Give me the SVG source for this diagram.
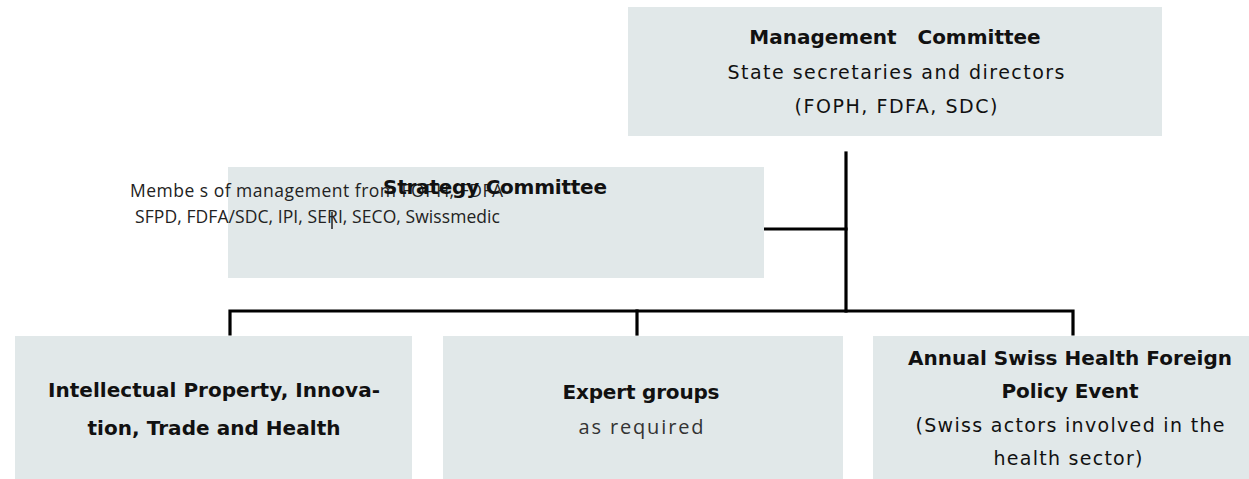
<svg xmlns="http://www.w3.org/2000/svg" width="1249" height="479" viewBox="0 0 1249 479">
  <style>
    .box { fill: #e1e8e9; }
    .b { font-family: "DejaVu Sans", "Liberation Sans", sans-serif; font-weight: bold; font-size: 20px; fill: #111; text-anchor: middle; }
    .r { font-family: "DejaVu Sans", "Liberation Sans", sans-serif; font-size: 19px; fill: #111; text-anchor: middle; }
    .m { font-family: "Open Sans", "Liberation Sans", sans-serif; font-size: 17.5px; fill: #222; }
    .o { font-family: "Open Sans", "Liberation Sans", sans-serif; font-size: 20px; fill: #333; text-anchor: middle; }
    .c { stroke: #000; stroke-width: 3.2; fill: none; stroke-linecap: square; stroke-linejoin: miter; }
  </style>
  <rect width="1249" height="479" fill="#ffffff"/>

  <g id="connectors">
    <path class="c" d="M846 153 V311"/>
    <path class="c" d="M765 229 H846"/>
    <path class="c" d="M230 334 V311 H1073 V334"/>
    <path class="c" d="M637 311 V334"/>
  </g>

  <g id="management">
    <rect class="box" x="628" y="7" width="534" height="129"/>
    <text class="b" x="895" y="44" xml:space="preserve" style="white-space:pre">Management   Committee</text>
    <text class="r" x="896" y="79" textLength="337" lengthAdjust="spacing">State secretaries and directors</text>
    <text class="r" x="896" y="113" textLength="203" lengthAdjust="spacing">(FOPH, FDFA, SDC)</text>
  </g>

  <g id="strategy">
    <rect class="box" x="228" y="167" width="536" height="111"/>
    <text class="m" x="130" y="197" textLength="373" lengthAdjust="spacing">Membe s of management from FOPH, FDFA</text>
    <text class="m" x="135" y="223" textLength="365" lengthAdjust="spacing">SFPD, FDFA/SDC, IPI, SERI, SECO, Swissmedic</text>
    <line x1="332" y1="212" x2="332" y2="229" stroke="#222" stroke-width="1.5"/>
    <text class="b" x="495" y="194" textLength="224" lengthAdjust="spacing">Strategy Committee</text>
  </g>

  <g id="ip-innovation">
    <rect class="box" x="15" y="336" width="397" height="143"/>
    <text class="b" x="214" y="397" textLength="332" lengthAdjust="spacing">Intellectual Property, Innova-</text>
    <text class="b" x="214" y="435" textLength="253" lengthAdjust="spacing">tion, Trade and Health</text>
  </g>

  <g id="expert-groups">
    <rect class="box" x="443" y="336" width="400" height="143"/>
    <text class="b" x="641" y="399" textLength="157" lengthAdjust="spacing">Expert groups</text>
    <text class="o" x="641" y="434" textLength="125" lengthAdjust="spacing">as required</text>
  </g>

  <g id="annual-event">
    <rect class="box" x="873" y="336" width="376" height="143"/>
    <text class="b" x="1070" y="365" textLength="324" lengthAdjust="spacing">Annual Swiss Health Foreign</text>
    <text class="b" x="1070" y="398" textLength="137" lengthAdjust="spacing">Policy Event</text>
    <text class="r" x="1070" y="432" textLength="309" lengthAdjust="spacing">(Swiss actors involved in the</text>
    <text class="r" x="1068" y="465" textLength="149" lengthAdjust="spacing">health sector)</text>
  </g>
</svg>
